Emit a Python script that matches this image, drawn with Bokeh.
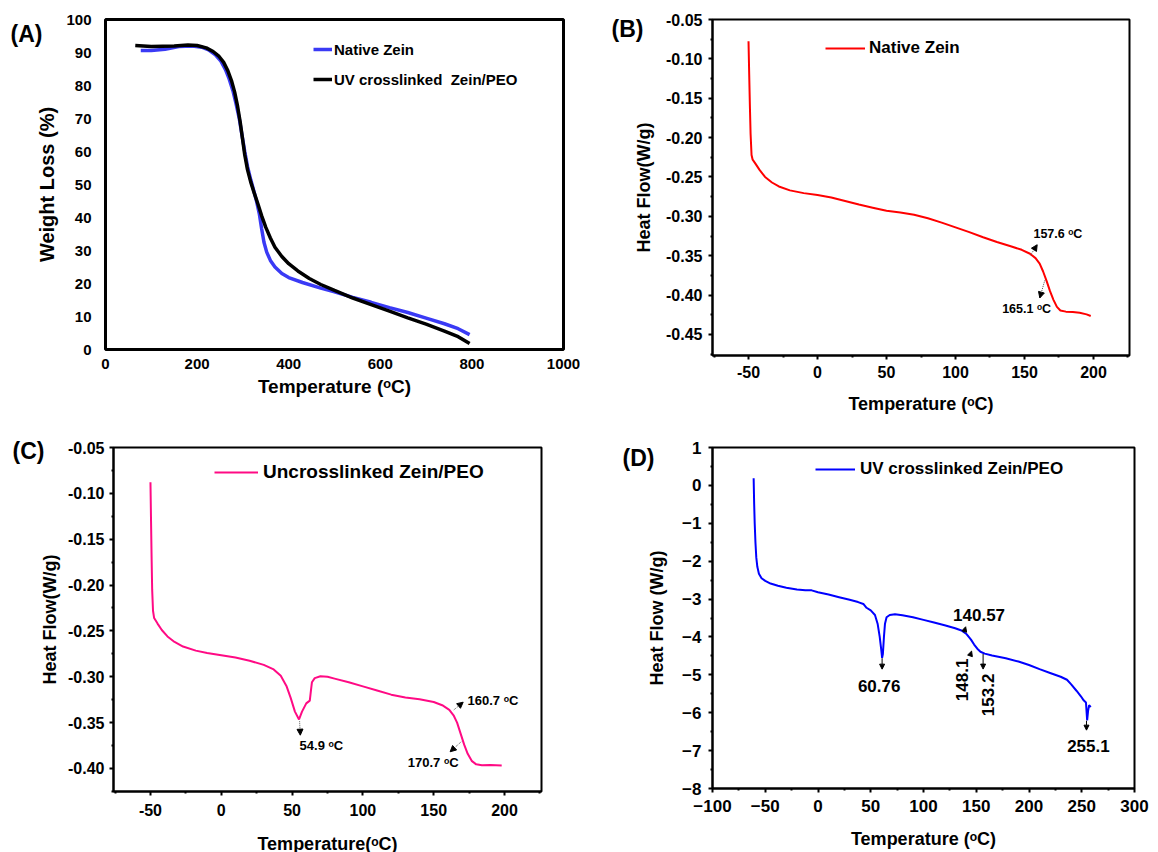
import numpy as np
from bokeh.plotting import figure
from bokeh.layouts import column, row
from bokeh.models import (Range1d, FixedTicker, CustomJSTickFormatter, Label, Arrow,
                          NormalHead, Legend, LegendItem, LinearAxis)
from bokeh.embed import file_html
from bokeh.resources import INLINE

FONT = "Liberation Sans"

# ---------------- (A) TGA ----------------
tga_native_T = [77, 100, 130, 160, 190, 210, 225, 240, 252, 262, 270, 278, 285, 292, 298, 304,
                310, 317, 324, 330, 336, 341, 346, 352, 360, 370, 385, 400, 430, 470, 500, 540,
                580, 620, 660, 700, 740, 770, 795]
tga_native_w = [90.6, 90.6, 91.0, 91.8, 92.0, 91.6, 90.8, 89.3, 87.4, 84.8, 82.0, 78.5, 74.5,
                70.0, 65.0, 60.0, 55.5, 51.5, 48.0, 44.8, 41.0, 36.5, 32.5, 29.5, 27.0, 25.0,
                23.0, 21.8, 20.3, 18.6, 17.5, 15.8, 14.3, 12.7, 11.2, 9.5, 7.8, 6.3, 4.5]
tga_uv_T = [65, 100, 150, 180, 200, 220, 235, 248, 258, 267, 275, 282, 288, 294, 299, 304, 310,
            317, 325, 333, 341, 350, 360, 370, 385, 400, 420, 445, 470, 500, 540, 580, 620, 660,
            700, 740, 770, 795]
tga_uv_w = [92.1, 91.8, 92.0, 92.3, 92.1, 91.4, 90.3, 88.8, 87.0, 84.5, 81.5, 78.0, 74.0, 69.0,
            64.0, 59.0, 54.5, 50.8, 47.3, 44.0, 40.5, 37.0, 33.8, 31.0, 28.2, 26.0, 23.8, 21.5,
            19.7, 17.9, 15.6, 13.6, 11.6, 9.6, 7.7, 5.6, 3.9, 1.8]
tga_x_ticks = [0, 200, 400, 600, 800, 1000]
tga_x_labels = ["0", "200", "400", "600", "800", "1000"]
tga_y_ticks = [0, 10, 20, 30, 40, 50, 60, 70, 80, 90, 100]
tga_y_labels = ["0", "10", "20", "30", "40", "50", "60", "70", "80", "90", "100"]

# ---------------- (B) DSC native zein ----------------
dsc_b_T = [-50, -49.5, -49.0, -48.5, -47.8, -47.0, -45, -42, -38, -33, -28, -20, -10, 0, 10, 20,
           30, 40, 50, 60, 70, 80, 90, 100, 110, 120, 130, 140, 148, 154, 158, 161, 163.5, 166,
           168.5, 171, 173.5, 176, 180, 185, 190, 195, 198]
dsc_b_q = [-0.0775, -0.120, -0.160, -0.195, -0.222, -0.228, -0.233, -0.241, -0.250, -0.257,
           -0.262, -0.267, -0.2705, -0.2730, -0.2760, -0.2805, -0.2850, -0.2890, -0.2930,
           -0.2950, -0.2980, -0.3025, -0.3080, -0.3140, -0.3200, -0.3265, -0.3325, -0.3380,
           -0.3425, -0.3475, -0.3530, -0.3600, -0.3700, -0.3820, -0.3950, -0.4060, -0.4150,
           -0.4195, -0.4210, -0.4215, -0.4225, -0.4245, -0.4265]
dsc_b_notes = ["157.6 ᵒC", "165.1 ᵒC"]
dsc_b_note_T = [157.6, 165.1]

# ---------------- (C) DSC uncrosslinked zein/PEO ----------------
dsc_c_T = [-50, -49.6, -49.2, -48.8, -48.2, -47.4, -45, -42, -38, -33, -27, -18, -10, 0, 10, 20,
           30, 37, 42, 46, 49, 52, 54.9, 57, 60, 62.5, 63.3, 64, 66, 70, 75, 80, 90, 100, 110,
           120, 130, 140, 150, 156, 161, 164, 166.5, 169, 171.5, 174, 177, 180, 184, 190, 198]
dsc_c_q = [-0.088, -0.130, -0.170, -0.205, -0.228, -0.236, -0.242, -0.249, -0.256, -0.262,
           -0.267, -0.2715, -0.274, -0.2765, -0.2790, -0.2825, -0.2870, -0.2920, -0.2990,
           -0.3100, -0.3230, -0.3380, -0.3465, -0.3380, -0.3290, -0.3260, -0.3150, -0.3060,
           -0.3015, -0.2995, -0.3000, -0.3020, -0.3060, -0.3105, -0.3150, -0.3195, -0.3225,
           -0.3245, -0.3275, -0.3310, -0.3360, -0.3420, -0.3500, -0.3620, -0.3740, -0.3840,
           -0.3920, -0.3955, -0.3965, -0.3962, -0.3967]
dsc_c_notes = ["54.9 ᵒC", "160.7 ᵒC", "170.7 ᵒC"]
dsc_c_note_T = [54.9, 160.7, 170.7]

dsc_bc_x_ticks = [-50, 0, 50, 100, 150, 200]
dsc_bc_x_labels = ["-50", "0", "50", "100", "150", "200"]
dsc_bc_x_minor = [-75, -25, 25, 75, 125, 175, 225]
dsc_b_y_ticks = [-0.45, -0.40, -0.35, -0.30, -0.25, -0.20, -0.15, -0.10, -0.05]
dsc_b_y_labels = ["-0.45", "-0.40", "-0.35", "-0.30", "-0.25", "-0.20", "-0.15", "-0.10", "-0.05"]
dsc_b_y_minor = [-0.475, -0.425, -0.375, -0.325, -0.275, -0.225, -0.175, -0.125, -0.075]
dsc_c_y_ticks = [-0.40, -0.35, -0.30, -0.25, -0.20, -0.15, -0.10, -0.05]
dsc_c_y_labels = ["-0.40", "-0.35", "-0.30", "-0.25", "-0.20", "-0.15", "-0.10", "-0.05"]
dsc_c_y_minor = [-0.425, -0.375, -0.325, -0.275, -0.225, -0.175, -0.125, -0.075]

# ---------------- (D) DSC UV crosslinked zein/PEO ----------------
dsc_d_T = [-61, -60.5, -60, -59.3, -58.5, -57.5, -56, -53.5, -50, -45, -38, -30, -20, -12, -6, 0,
           10, 20, 30, 38, 43, 46, 50, 54, 56.5, 58.5, 60, 60.76, 61.5, 62.5, 63.5, 65, 68, 73,
           80, 90, 100, 110, 120, 130, 136, 141, 145, 148, 151, 154, 158, 165, 178, 190, 200,
           210, 220, 230, 236, 240, 245, 249, 252, 254, 255.1, 256, 257, 258.5]
dsc_d_q = [0.19, -0.5, -1.0, -1.5, -1.9, -2.15, -2.33, -2.45, -2.52, -2.59, -2.65, -2.70, -2.75,
           -2.77, -2.77, -2.82, -2.88, -2.95, -3.02, -3.08, -3.13, -3.23, -3.30, -3.42, -3.65,
           -4.00, -4.35, -4.55, -4.45, -4.00, -3.65, -3.48, -3.42, -3.40, -3.43, -3.48, -3.55,
           -3.62, -3.69, -3.77, -3.83, -3.93, -4.07, -4.20, -4.31, -4.39, -4.44, -4.49, -4.56,
           -4.65, -4.74, -4.85, -4.95, -5.05, -5.13, -5.25, -5.42, -5.56, -5.68, -5.73, -6.20,
           -5.95, -5.80, -5.85]
dsc_d_notes = ["60.76", "140.57", "148.1", "153.2", "255.1"]
dsc_d_note_T = [60.76, 140.57, 148.1, 153.2, 255.1]
dsc_d_x_ticks = [-100, -50, 0, 50, 100, 150, 200, 250, 300]
dsc_d_x_labels = ["−100", "−50", "0", "50", "100", "150", "200", "250", "300"]
dsc_d_x_minor = [-75, -25, 25, 75, 125, 175, 225, 275]
dsc_d_y_ticks = [-8, -7, -6, -5, -4, -3, -2, -1, 0, 1]
dsc_d_y_labels = ["−8", "−7", "−6", "−5", "−4", "−3", "−2", "−1", "0", "1"]
dsc_d_y_minor = [-7.5, -6.5, -5.5, -4.5, -3.5, -2.5, -1.5, -0.5, 0.5]


def label_formatter(tick_values, tick_texts):
    return CustomJSTickFormatter(args=dict(tv=tick_values, tl=tick_texts), code="""
        for (let i = 0; i < tv.length; i++) {
            if (Math.abs(tv[i] - tick) < 1e-6) { return tl[i]; }
        }
        return "";
    """)


def make_panel(xr, yr, borders, frame, outline_w):
    left, right, top, bottom = borders
    p = figure(frame_width=frame[0], frame_height=frame[1],
               min_border_left=left, min_border_right=right,
               min_border_top=top, min_border_bottom=bottom,
               x_range=Range1d(*xr), y_range=Range1d(*yr),
               output_backend="svg", toolbar_location=None,
               background_fill_color="white", border_fill_color="white")
    p.grid.visible = False
    p.outline_line_color = "black"
    p.outline_line_width = outline_w
    return p


def style_axis(ax, ticks, labels, minor, tick_font, title, title_font, label_standoff,
               title_standoff, tick_out, line_w):
    ax.ticker = FixedTicker(ticks=ticks, minor_ticks=minor)
    ax.formatter = label_formatter(ticks, labels)
    ax.major_label_text_font = FONT
    ax.major_label_text_font_style = "bold"
    ax.major_label_text_font_size = tick_font
    ax.major_label_text_color = "black"
    ax.major_label_standoff = label_standoff
    ax.axis_label = title
    ax.axis_label_text_font = FONT
    ax.axis_label_text_font_style = "bold"
    ax.axis_label_text_font_size = title_font
    ax.axis_label_text_color = "black"
    ax.axis_label_standoff = title_standoff
    ax.major_tick_in = 0
    ax.minor_tick_in = 0
    ax.major_tick_out = tick_out
    ax.minor_tick_out = max(tick_out - 2, 0)
    ax.major_tick_line_width = line_w
    ax.minor_tick_line_width = line_w
    ax.major_tick_line_color = "black" if tick_out else None
    ax.minor_tick_line_color = "black" if tick_out else None
    ax.axis_line_color = "black"
    ax.axis_line_width = line_w


def panel_tag(p, text, dy_px, standoff):
    # the panel letter is drawn as the only label of an extra, line-less left axis,
    # so it lives in the left border beside the frame's top edge
    ys, ye = p.y_range.start, p.y_range.end
    y = ye - dy_px * (ye - ys) / p.frame_height
    ax = LinearAxis(ticker=FixedTicker(ticks=[y], minor_ticks=[]),
                    formatter=label_formatter([y], [text]),
                    axis_line_color=None, major_tick_line_color=None,
                    minor_tick_line_color=None, major_tick_in=0, major_tick_out=0,
                    minor_tick_in=0, minor_tick_out=0, major_label_standoff=standoff,
                    major_label_text_font=FONT, major_label_text_font_style="bold",
                    major_label_text_font_size="23px", major_label_text_color="black")
    p.add_layout(ax, "left")


def add_legend(p, renderers, labels, loc, font, glyph_w, standoff, spacing):
    items = [LegendItem(label=t, renderers=[r]) for t, r in zip(labels, renderers)]
    lg = Legend(items=items, location=loc, border_line_color=None, background_fill_alpha=0,
                padding=0, margin=0, spacing=spacing, glyph_width=glyph_w, glyph_height=20,
                label_height=20, label_standoff=standoff, label_text_font=FONT,
                label_text_font_style="bold", label_text_font_size=font,
                label_text_color="black")
    p.add_layout(lg)


def add_note(p, text, x, y, align, font, angle=0.0):
    p.add_layout(Label(x=x, y=y, text=text, angle=angle, text_font=FONT,
                       text_font_style="bold", text_font_size=font, text_color="black",
                       text_align=align, text_baseline="middle"))


def add_arrow(p, x0, y0, x1, y1, color, dash, size=6):
    p.add_layout(Arrow(x_start=x0, y_start=y0, x_end=x1, y_end=y1,
                       line_color=color, line_width=1, line_dash=dash,
                       end=NormalHead(size=size, fill_color="black", line_color="black",
                                      line_width=1)))


# ---------------- panel A ----------------
pA = make_panel((0, 1000), (0, 100), (105, 17, 17, 73), (458, 330), 3)
rA1 = pA.line(tga_native_T, tga_native_w, line_color="#3a3af5", line_width=3.5)
rA2 = pA.line(tga_uv_T, tga_uv_w, line_color="black", line_width=3.5)
style_axis(pA.xaxis[0], tga_x_ticks, tga_x_labels, [], "15px", "Temperature (ᵒC)", "19px",
           9, 4, 0, 2)
style_axis(pA.yaxis[0], tga_y_ticks, tga_y_labels, [], "15px", "Weight Loss (%)", "20px",
           14, 5, 0, 2)
pA.xaxis[0].axis_line_color = None
pA.yaxis[0].axis_line_color = None
add_legend(pA, [rA1, rA2], ["Native Zein", "UV crosslinked  Zein/PEO"], (208, 260), "15px",
           19, 2, 10)
panel_tag(pA, "(A)", 14, -9)

# ---------------- panel B ----------------
pB = make_panel((-76.1, 226.1), (-0.4767, -0.05), (132, 29, 19, 65), (417, 336), 2)
rB = pB.line(dsc_b_T, dsc_b_q, line_color="#ff0000", line_width=2)
style_axis(pB.xaxis[0], dsc_bc_x_ticks, dsc_bc_x_labels, dsc_bc_x_minor, "16px",
           "Temperature (ᵒC)", "18px", 6, 13, 4, 2)
style_axis(pB.yaxis[0], dsc_b_y_ticks, dsc_b_y_labels, dsc_b_y_minor, "16px",
           "Heat Flow(W/g)", "18px", 6, 9, 4, 2)
add_legend(pB, [rB], ["Native Zein"], (113, 297), "17px", 40, 4, 10)
panel_tag(pB, "(B)", 9, -12)
# arrow/label offsets (dx, dy) from the annotated point on the curve
b_geom = [((-3.3, 0.003), (1.6, 0.0164), (-1.1, 0.0295)),
          ((-0.4, -0.0036), (-4.0, -0.026), (-31.3, -0.0395))]
for txt, T, (s, e, t) in zip(dsc_b_notes, dsc_b_note_T, b_geom):
    q = float(np.interp(T, dsc_b_T, dsc_b_q))
    add_arrow(pB, T + s[0], q + s[1], T + e[0], q + e[1], "#555555", "1 1")
    add_note(pB, txt, T + t[0], q + t[1], "left", "12.5px")

# ---------------- panel C ----------------
pC = make_panel((-76.1, 226.1), (-0.4251, -0.05), (113, 39, 24, 64), (428, 344), 2)
rC = pC.line(dsc_c_T, dsc_c_q, line_color="#ff0a84", line_width=2)
style_axis(pC.xaxis[0], dsc_bc_x_ticks, dsc_bc_x_labels, dsc_bc_x_minor, "16px",
           "Temperature(ᵒC)", "18px", 8, 15, 4, 2)
style_axis(pC.yaxis[0], dsc_c_y_ticks, dsc_c_y_labels, dsc_c_y_minor, "16px",
           "Heat Flow(W/g)", "18px", 5, 5, 4, 2)
add_legend(pC, [rC], ["Uncrosslinked Zein/PEO"], (101, 308), "19px", 44, 5, 10)
panel_tag(pC, "(C)", 3, -7)
c_geom = [((0.4, -0.002), (0.9, -0.0172), (0.4, -0.028), "left"),
          ((3.5, -0.0004), (10.1, 0.008), (13.2, 0.0098), "left"),
          ((-1.3, -0.0007), (-9.1, -0.0116), (-3.1, -0.0236), "right")]
for txt, T, (s, e, t, al) in zip(dsc_c_notes, dsc_c_note_T, c_geom):
    q = float(np.interp(T, dsc_c_T, dsc_c_q))
    add_arrow(pC, T + s[0], q + s[1], T + e[0], q + e[1], "#555555", "1 1")
    add_note(pC, txt, T + t[0], q + t[1], al, "13px")

# ---------------- panel D ----------------
pD = make_panel((-100, 300), (-8, 1), (132, 24, 27, 64), (422, 341), 2)
rD = pD.line(dsc_d_T, dsc_d_q, line_color="#0000ff", line_width=2)
style_axis(pD.xaxis[0], dsc_d_x_ticks, dsc_d_x_labels, dsc_d_x_minor, "17px",
           "Temperature (ᵒC)", "18px", 7, 14, 4, 2)
style_axis(pD.yaxis[0], dsc_d_y_ticks, dsc_d_y_labels, dsc_d_y_minor, "17px",
           "Heat Flow (W/g)", "18px", 7, 12, 4, 2)
add_legend(pD, [rD], ["UV crosslinked Zein/PEO"], (103, 309), "17px", 40, 5, 10)
panel_tag(pD, "(D)", 10, -10)
d_geom = [((0, -0.01), (0, -0.30), (-2.8, -0.74), 0.0),
          ((-2.2, 0.04), (-0.6, 0.19), (12.1, 0.50), 0.0),
          ((-4.1, -0.30), (-2.5, -0.17), (-11.9, -0.93), np.pi / 2),
          ((3.3, -0.08), (3.3, -0.48), (8.1, -1.16), np.pi / 2),
          ((-0.6, -0.01), (-0.6, -0.26), (1.2, -0.67), 0.0)]
for txt, T, (s, e, t, ang) in zip(dsc_d_notes, dsc_d_note_T, d_geom):
    q = float(np.interp(T, dsc_d_T, dsc_d_q))
    add_arrow(pD, T + s[0], q + s[1], T + e[0], q + e[1], "black", "solid", 5)
    pD.add_layout(Label(x=T + t[0], y=q + t[1], text=txt, angle=ang, text_font=FONT,
                        text_font_style="bold", text_font_size="17px", text_color="black",
                        text_align="center", text_baseline="middle"))

layout = column(row(pA, pB), row(pC, pD))
open("out.html", "w").write(file_html(layout, INLINE))
